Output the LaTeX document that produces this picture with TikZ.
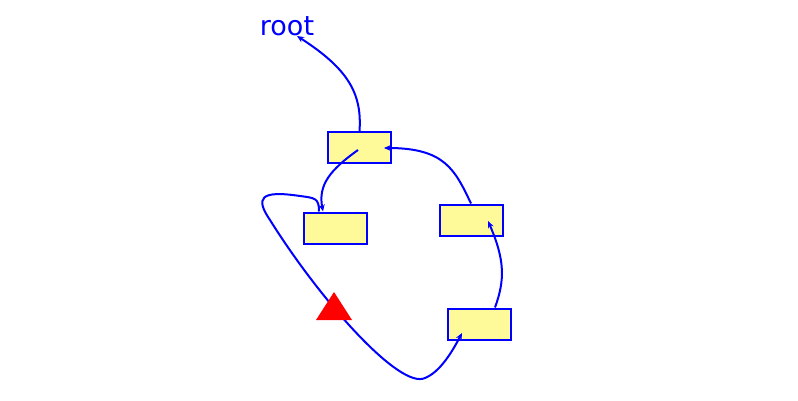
\documentclass[tikz,border=0pt]{standalone}
\usepackage{fontspec}
\setmainfont{DejaVu Sans}
\usetikzlibrary{arrows.meta}
\begin{document}
\begin{tikzpicture}[x=1pt,y=-1pt]
\tikzstyle{cell}=[draw=blue,fill=yellow!40,line width=2pt,minimum width=63pt,minimum height=31pt,inner sep=0pt]
\tikzstyle{link}=[blue,line width=2pt,-{Stealth[length=7pt,width=6pt]}]
\useasboundingbox (0,0) rectangle (798,401);

\node[text=blue,font=\fontsize{27}{27}\selectfont] (root) at (287,26) {root};
\node[cell] (a) at (359.5,148) {};
\node[cell] (b) at (335,228) {};
\node[cell] (c) at (471,220) {};
\node[cell] (d) at (479,324) {};
\coordinate (ain) at (384,148);
\coordinate (cin) at (488,221);
\coordinate (din) at (462,333);
\coordinate (afrom) at (358,150);

\draw[link] (a.north) .. controls (362,95) and (350,70) .. (297,36);
\draw[link] (afrom) .. controls (330,170) and (318,185) .. (b.north -| 323,0);
\draw[link] (c.north) .. controls (455,170) and (445,148) .. (ain);
\draw[link] (d.north -| 495,0) .. controls (505,280) and (505,260) .. (cin);
\draw[link] (b.north -| 319,0) .. controls (319,198) and (315,198) .. (300,196)
  .. controls (260,190) and (255,198) .. (270,220)
  .. controls (320,300) and (400,390) .. (425,378)
  .. controls (440,372) and (452,352) .. (din);
\fill[red] (316,320) -- (334,292) -- (352,320) -- cycle;
\end{tikzpicture}
\end{document}
